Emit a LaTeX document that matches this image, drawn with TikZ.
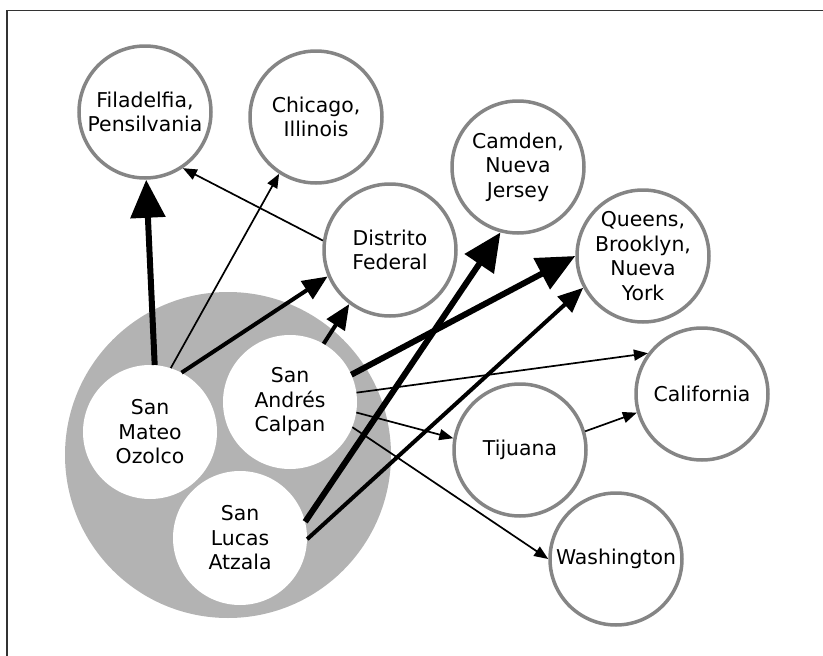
\documentclass[tikz,border=0pt]{standalone}
\usepackage{fontspec}
\setmainfont{DejaVu Sans}
\usetikzlibrary{arrows.meta}
\definecolor{ringgray}{RGB}{133,133,133}
\definecolor{blobgray}{RGB}{179,179,179}
\definecolor{framegray}{RGB}{51,51,51}
\tikzset{
  lbl/.style={align=center, font=\fontsize{20.4}{24.5}\selectfont},
  city/.style={lbl, circle, draw=ringgray, line width=3.5pt, fill=white, minimum size=132pt, inner sep=0pt},
  town/.style={lbl, circle, fill=white, minimum size=134pt, inner sep=0pt},
  flowthin/.style={line width=1.7pt, -{Triangle[length=14pt,width=11pt]}},
  flowmid/.style={line width=4pt, -{Triangle[length=25pt,width=21pt]}},
  flowthick/.style={line width=6pt, -{Triangle[length=38pt,width=34pt]}},
}
\begin{document}
\begin{tikzpicture}[x=1pt,y=-1pt]
\useasboundingbox (0,0) rectangle (823,656);
\draw[framegray, line width=1.5pt] (7,656) -- (7,10.5) -- (823,10.5);
% group
\fill[blobgray] (228,455) circle (163);
\node[town] (mateo) at (150,432) {San\\Mateo\\Ozolco};
\node[town] (andres) at (290,402) {San\\Andrés\\Calpan};
\node[town] (lucas) at (240,538) {San\\Lucas\\Atzala};
% destinations
\node[city] (fil) at (145,112) {Filadelfia,\\Pensilvania};
\node[city] (chi) at (316,117) {Chicago,\\Illinois};
\node[city] (df) at (390,250) {Distrito\\Federal};
\node[city] (cam) at (518,167) {Camden,\\Nueva\\Jersey};
\node[city] (que) at (643,256) {Queens,\\Brooklyn,\\Nueva\\York};
\node[city] (cal) at (702,394) {California};
\node[city] (tij) at (520,450) {Tijuana};
\node[city] (was) at (616,559) {Washington};
% flows
\draw[flowthick] (mateo.86) -- (fil.271);
\draw[flowthin] (mateo.72) -- (chi.237);
\draw[flowmid] (mateo.62) -- (df.203);
\draw[flowthin] (df.172) -- (fil.304);
\draw[flowmid] (andres.60) -- (df.233);
\draw[flowthick] (andres.24) -- (que.180);
\draw[flowthin] (andres.8) -- (cal.143);
\draw[flowthin] (andres.351) -- (tij.170);
\draw[flowthin] (andres.338) -- (was.180);
\draw[flowthick] (lucas.14) -- (cam.255);
\draw[flowmid] (lucas.359) -- (que.208);
\draw[flowthin] (tij.16) -- (cal.196);
\end{tikzpicture}
\end{document}
